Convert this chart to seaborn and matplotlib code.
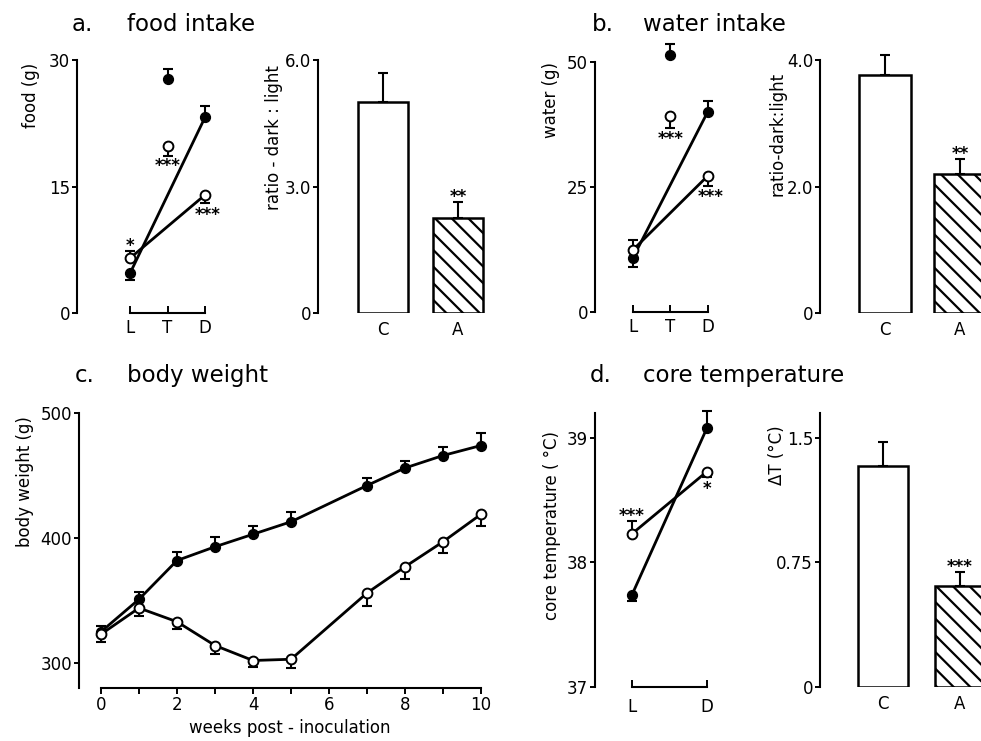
import matplotlib
matplotlib.use("Agg")
import matplotlib.pyplot as plt
import seaborn as sns

# ---------------- data ----------------
phase3 = ["L", "T", "D"]
food_ctrl = [4.7, 27.7, 23.2]
food_ctrl_err = [0.8, 1.2, 1.3]
food_anx = [6.5, 19.8, 14.0]
food_anx_err = [0.8, 1.2, 0.9]
groups = ["C", "A"]
food_ratio = [5.0, 2.25]
food_ratio_err = [0.7, 0.38]

water_ctrl = [10.8, 51.4, 40.0]
water_ctrl_err = [1.8, 2.2, 2.2]
water_anx = [12.4, 39.2, 27.2]
water_anx_err = [2.0, 2.4, 2.0]
water_ratio = [3.76, 2.2]
water_ratio_err = [0.32, 0.23]

weeks = [0, 1, 2, 3, 4, 5, 7, 8, 9, 10]
bw_ctrl = [325, 351, 382, 393, 403, 413, 442, 456, 466, 474]
bw_ctrl_err = [5, 6, 7, 8, 7, 8, 6, 6, 7, 10]
bw_anx = [323, 344, 333, 314, 302, 303, 356, 377, 397, 419]
bw_anx_err = [6, 6, 6, 7, 5, 7, 10, 10, 9, 9]

phase2 = ["L", "D"]
temp_ctrl = [37.74, 39.08]
temp_ctrl_err = [0.05, 0.14]
temp_anx = [38.23, 38.73]
temp_anx_err = [0.10, 0.04]
dT = [1.33, 0.61]
dT_err = [0.145, 0.08]

# error-bar direction (+1 up, -1 down)
dir3_ctrl = [-1, 1, 1]
dir3_anx = [1, -1, -1]
dir2_ctrl = [-1, 1]
dir2_anx = [1, -1]

# ---------------- style ----------------
sns.set_style("ticks")
plt.rcParams['font.family'] = ['DejaVu Sans']
plt.rcParams['hatch.linewidth'] = 1.6
plt.rcParams['axes.linewidth'] = 1.5
for k in ['text.color', 'axes.labelcolor', 'xtick.color', 'ytick.color',
          'axes.edgecolor', 'hatch.color']:
    plt.rcParams[k] = 'black'

W, H = 981, 741
fig = plt.figure(figsize=(W / 100, H / 100), dpi=100)
fig.patch.set_facecolor('white')


def px_axes(x0, x1, ytop, ybot):
    ax = fig.add_axes([x0 / W, 1 - ybot / H, (x1 - x0) / W, (ybot - ytop) / H])
    ax.set_facecolor('none')
    return ax


TICK_FS = 12


def errbars(ax, xs, vals, errs, dirs):
    lo = [e if d < 0 else 0 for e, d in zip(errs, dirs)]
    hi = [e if d > 0 else 0 for e, d in zip(errs, dirs)]
    c = ax.errorbar(xs, vals, yerr=[lo, hi], fmt='none', ecolor='black',
                    elinewidth=1.5, capsize=3.5, capthick=1.5, zorder=1)
    for a in c.lines[1] + c.lines[2]:
        a.set_clip_on(False)


def line_panel(ax, xs, ctrl, cerr, cdir, anx, aerr, adir, join, msize=50):
    errbars(ax, xs, ctrl, cerr, cdir)
    errbars(ax, xs, anx, aerr, adir)
    jx = [xs[i] for i in join]
    sns.lineplot(x=jx, y=[ctrl[i] for i in join], ax=ax, color='black',
                 lw=2.0, zorder=2, sort=False)
    sns.lineplot(x=jx, y=[anx[i] for i in join], ax=ax, color='black',
                 lw=2.0, zorder=2, sort=False)
    sns.scatterplot(x=xs, y=ctrl, ax=ax, color='black', edgecolor='black',
                    s=msize, linewidth=1, zorder=3)
    sns.scatterplot(x=xs, y=anx, ax=ax, color='white', edgecolor='black',
                    s=msize, linewidth=1.4, zorder=3)
    for art in list(ax.collections) + list(ax.lines):
        art.set_clip_on(False)
    ax.set_xlabel('')
    ax.set_ylabel('')
    ax.spines[['top', 'right']].set_visible(False)


def yaxis(ax, ticks, labels, lo, hi):
    ax.set_yticks(ticks)
    ax.set_yticklabels(labels, fontsize=TICK_FS)
    ax.spines['left'].set_bounds(lo, hi)
    ax.tick_params(axis='y', direction='out', length=3.5, width=1.4, pad=1.5)


def bracket(ax, positions, labels, pad=4):
    ax.spines['bottom'].set_bounds(positions[0], positions[-1])
    ax.set_xticks(positions)
    ax.set_xticklabels(labels, fontsize=TICK_FS)
    ax.tick_params(axis='x', direction='in', length=5, width=1.4, pad=pad)


def bar_panel(ax, vals, errs, width):
    sns.barplot(x=groups, y=vals, ax=ax, color='white', edgecolor='black',
                linewidth=1.8, width=width, saturation=1, errorbar=None)
    ax.patches[1].set_hatch('\\\\')
    errbars(ax, [0, 1], vals, errs, [1, 1])
    ax.set_xlabel('')
    ax.set_ylabel('')
    ax.spines[['top', 'right', 'bottom']].set_visible(False)
    ax.tick_params(axis='x', length=0, pad=6, labelsize=TICK_FS)


def stars(ax, x, y, txt, off, dx=0):
    ax.annotate(txt, xy=(x, y), xytext=(dx, off), textcoords='offset points',
                ha='center', va='center', fontsize=12, fontweight='bold',
                annotation_clip=False)


# ---------------- panel a ----------------
ax = px_axes(77, 225, 60, 313)
x3 = [0, 1, 2]
line_panel(ax, x3, food_ctrl, food_ctrl_err, dir3_ctrl,
           food_anx, food_anx_err, dir3_anx, [0, 2])
ax.set_xlim(-1.413, 2.533)
ax.set_ylim(0, 30)
yaxis(ax, [0, 15, 30], ['0', '15', '30'], 0, 30)
bracket(ax, x3, phase3)
stars(ax, 0, food_anx[0] + food_anx_err[0], '*', 4)
stars(ax, 1, food_anx[1] - food_anx_err[1], '***', -7)
stars(ax, 2, food_anx[2] - food_anx_err[2], '***', -9, dx=2)

ax = px_axes(318, 505, 60, 313)
bar_panel(ax, food_ratio, food_ratio_err, 0.667)
ax.set_xlim(-0.867, 1.627)
ax.set_ylim(0, 6)
yaxis(ax, [0, 3, 6], ['0', '3.0', '6.0'], 0, 6)
stars(ax, 1, food_ratio[1] + food_ratio_err[1], '**', 4)

# ---------------- panel b ----------------
ax = px_axes(595, 745, 62, 312)
line_panel(ax, x3, water_ctrl, water_ctrl_err, dir3_ctrl,
           water_anx, water_anx_err, dir3_anx, [0, 2])
ax.set_xlim(-1.013, 3.0)
ax.set_ylim(0, 50)
yaxis(ax, [0, 25, 50], ['0', '25', '50'], 0, 50)
bracket(ax, x3, phase3)
stars(ax, 1, water_anx[1] - water_anx_err[1], '***', -8)
stars(ax, 2, water_anx[2] - water_anx_err[2], '***', -8, dx=2)

ax = px_axes(820, 981, 60, 313)
bar_panel(ax, water_ratio, water_ratio_err, 0.693)
ax.set_xlim(-0.867, 1.28)
ax.set_ylim(0, 4)
yaxis(ax, [0, 2, 4], ['0', '2.0', '4.0'], 0, 4)
stars(ax, 1, water_ratio[1] + water_ratio_err[1], '**', 4)

# ---------------- panel c ----------------
ax = px_axes(79, 495, 413, 688)
line_panel(ax, weeks, bw_ctrl, bw_ctrl_err, [1] * len(weeks),
           bw_anx, bw_anx_err, [-1] * len(weeks), list(range(len(weeks))))
ax.set_xlim(-0.579, 10.368)
ax.set_ylim(280, 500)
yaxis(ax, [300, 400, 500], ['300', '400', '500'], 280, 500)
ax.spines['bottom'].set_bounds(0, 10)
ax.set_xticks(range(11))
ax.set_xticklabels([str(i) if i % 2 == 0 else '' for i in range(11)], fontsize=TICK_FS)
ax.tick_params(axis='x', direction='out', length=4, width=1.4, pad=2)

# ---------------- panel d ----------------
ax = px_axes(595, 745, 413, 687)
x2 = [0, 1]
line_panel(ax, x2, temp_ctrl, temp_ctrl_err, dir2_ctrl,
           temp_anx, temp_anx_err, dir2_anx, [0, 1])
ax.set_xlim(-0.493, 1.507)
ax.set_ylim(37, 39.2)
yaxis(ax, [37, 38, 39], ['37', '38', '39'], 37, 39.2)
bracket(ax, x2, phase2, pad=8)
stars(ax, 0, temp_anx[0] + temp_anx_err[0], '***', 4)
stars(ax, 1, temp_anx[1] - temp_anx_err[1], '*', -9)

ax = px_axes(820, 981, 413, 687)
bar_panel(ax, dT, dT_err, 0.65)
ax.set_xlim(-0.818, 1.273)
ax.set_ylim(0, 1.65)
yaxis(ax, [0, 0.75, 1.5], ['0', '0.75', '1.5'], 0, 1.65)
stars(ax, 1, dT[1] + dT_err[1], '***', 4)

# ---------------- text ----------------
TFS = 16.5
for x, txt, yb in [(72, 'a.', 31), (127, 'food intake', 31),
                   (592, 'b.', 31), (643, 'water intake', 31),
                   (75, 'c.', 382), (127, 'body weight', 382),
                   (590, 'd.', 382), (643, 'core temperature', 382)]:
    fig.text(x / W, 1 - yb / H, txt, fontsize=TFS, va='baseline', ha='left')

YFS = 12
for x, y, txt in [(31, 95, 'food (g)'), (274, 138, 'ratio - dark : light'),
                  (551, 100, 'water (g)'), (777, 134, 'ratio-dark:light'),
                  (25, 482, 'body weight (g)'),
                  (552, 525, 'core temperature ( °C)'),
                  (777, 455, 'ΔT (°C)')]:
    fig.text(x / W, 1 - y / H, txt, fontsize=YFS, rotation=90,
             ha='center', va='center')

fig.text(290 / W, 1 - 728 / H, 'weeks post - inoculation', fontsize=YFS,
         ha='center', va='center')

fig.savefig('out.png', dpi=100, facecolor='white')
